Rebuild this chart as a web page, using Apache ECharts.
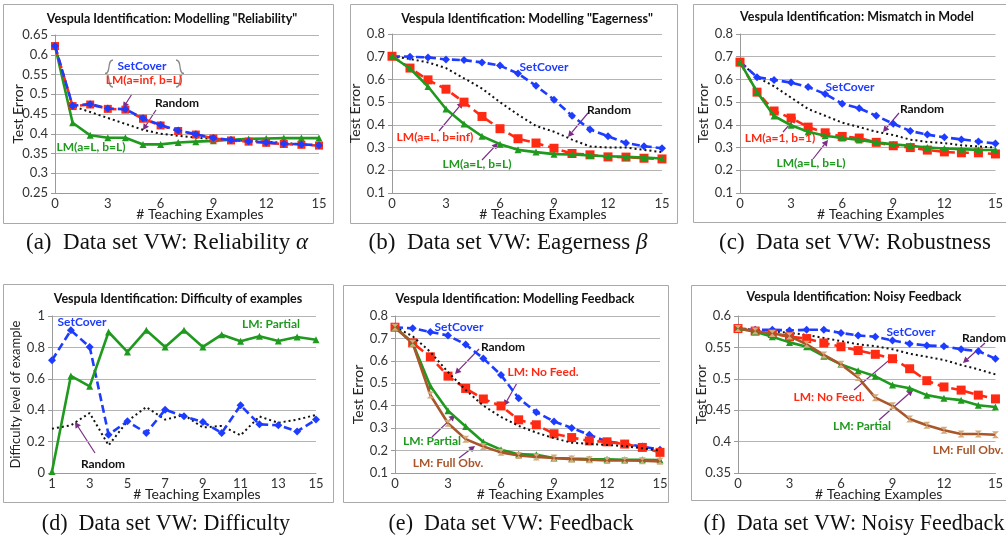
<!DOCTYPE html>
<html><head><meta charset="utf-8">
<script src="https://cdn.jsdelivr.net/npm/echarts@6/dist/echarts.min.js"></script>
<style>html,body{margin:0;padding:0;background:#fff}#c{width:1006px;height:538px}</style>
</head><body><div id="c"></div>
<script>
// ---------- data ----------
const examples = ['0','1','2','3','4','5','6','7','8','9','10','11','12','13','14','15'];
const examplesD = ['1','2','3','4','5','6','7','8','9','10','11','12','13','14','15'];

// (a) Reliability
const aSetCover = [0.622,0.471,0.475,0.464,0.462,0.439,0.422,0.408,0.399,0.389,0.384,0.381,0.378,0.375,0.373,0.371];
const aLMinfL   = [0.622,0.470,0.474,0.463,0.461,0.438,0.421,0.407,0.398,0.388,0.383,0.380,0.377,0.374,0.372,0.370];
const aLMLL     = [0.622,0.428,0.396,0.390,0.390,0.373,0.373,0.378,0.380,0.382,0.385,0.387,0.388,0.389,0.389,0.389];
const aRandom   = [0.622,0.470,0.455,0.440,0.425,0.410,0.400,0.395,0.390,0.387,0.384,0.382,0.380,0.377,0.373,0.370];

// (b) Eagerness
const bSetCover = [0.702,0.700,0.697,0.688,0.685,0.675,0.661,0.626,0.572,0.511,0.440,0.380,0.350,0.320,0.306,0.297];
const bLMLinf   = [0.702,0.650,0.598,0.557,0.500,0.437,0.383,0.339,0.320,0.297,0.274,0.268,0.259,0.258,0.253,0.250];
const bLMLL     = [0.702,0.648,0.569,0.470,0.404,0.350,0.315,0.290,0.280,0.271,0.270,0.265,0.262,0.259,0.256,0.252];
const bRandom   = [0.702,0.690,0.675,0.650,0.605,0.560,0.500,0.445,0.395,0.370,0.335,0.305,0.300,0.300,0.290,0.280];

// (c) Robustness
const cSetCover = [0.678,0.610,0.598,0.586,0.567,0.536,0.493,0.473,0.440,0.405,0.373,0.357,0.345,0.336,0.327,0.318];
const cLM11     = [0.676,0.544,0.461,0.430,0.390,0.365,0.349,0.342,0.323,0.308,0.300,0.289,0.281,0.277,0.277,0.272];
const cLMLL     = [0.676,0.545,0.439,0.398,0.370,0.352,0.342,0.333,0.323,0.314,0.308,0.300,0.296,0.293,0.290,0.289];
const cRandom   = [0.676,0.610,0.570,0.520,0.470,0.440,0.410,0.390,0.370,0.355,0.335,0.325,0.320,0.310,0.305,0.300];

// (d) Difficulty
const dSetCover = [0.718,0.909,0.803,0.244,0.329,0.255,0.403,0.361,0.325,0.255,0.431,0.310,0.304,0.265,0.340];
const dPartial  = [0.010,0.618,0.552,0.898,0.771,0.909,0.803,0.909,0.803,0.881,0.839,0.871,0.841,0.866,0.849];
const dRandom   = [0.282,0.304,0.382,0.176,0.330,0.420,0.340,0.370,0.290,0.300,0.240,0.360,0.320,0.340,0.370];

// (e) Feedback
const eSetCover = [0.750,0.745,0.729,0.713,0.673,0.611,0.537,0.433,0.371,0.330,0.301,0.270,0.241,0.230,0.218,0.204];
const eNoFeed   = [0.750,0.680,0.618,0.532,0.477,0.430,0.399,0.337,0.315,0.275,0.258,0.243,0.239,0.229,0.214,0.192];
const ePartial  = [0.750,0.680,0.488,0.378,0.307,0.238,0.204,0.184,0.181,0.167,0.164,0.162,0.161,0.159,0.159,0.158];
const eFullObv  = [0.750,0.678,0.448,0.322,0.251,0.218,0.192,0.178,0.171,0.167,0.162,0.159,0.156,0.156,0.155,0.152];
const eRandom   = [0.750,0.710,0.640,0.550,0.470,0.400,0.350,0.310,0.280,0.255,0.235,0.230,0.225,0.220,0.210,0.200];

// (f) Noisy feedback
const fSetCover = [0.580,0.578,0.578,0.577,0.578,0.578,0.573,0.569,0.567,0.561,0.556,0.553,0.552,0.547,0.544,0.532];
const fNoFeed   = [0.580,0.576,0.572,0.567,0.564,0.557,0.551,0.545,0.539,0.532,0.516,0.497,0.487,0.482,0.474,0.468];
const fPartial  = [0.580,0.575,0.567,0.558,0.551,0.536,0.523,0.513,0.504,0.490,0.485,0.474,0.469,0.466,0.458,0.455];
const fFullObv  = [0.580,0.576,0.572,0.568,0.555,0.538,0.523,0.502,0.470,0.457,0.436,0.426,0.418,0.412,0.412,0.411];
const fRandom   = [0.580,0.578,0.576,0.573,0.570,0.565,0.560,0.555,0.552,0.547,0.540,0.535,0.530,0.522,0.515,0.507];

const titles = [
  'Vespula Identification: Modelling "Reliability"',
  'Vespula Identification: Modelling "Eagerness"',
  'Vespula Identification: Mismatch in Model',
  'Vespula Identification: Difficulty of examples',
  'Vespula Identification: Modelling Feedback',
  'Vespula Identification: Noisy Feedback'
];

// ---------- styles ----------
const COL = {blue:'#1e3cff', red:'#ff2a14', green:'#1f9a1f', brown:'#a8562a', tan:'#d4aa7d', black:'#111', purple:'#7b2c86', grid:'#b4b4b4', border:'#a9a9a9'};
const FONT = 'Lato, "Open Sans", sans-serif';
const SERIF = '"Liberation Serif", "DejaVu Serif", serif';

const grids = [
  {left:55,  top:35,  width:264, height:158},
  {left:392, top:34,  width:270, height:159},
  {left:740, top:34,  width:266, height:159},
  {left:52,  top:316, width:264, height:157},
  {left:395, top:316, width:265, height:157},
  {left:738, top:316, width:266, height:157}
];
const yRanges = [[0.25,0.65,0.05],[0.1,0.8,0.1],[0.1,0.8,0.1],[0,1,0.2],[0.1,0.8,0.1],[0.35,0.6,0.05]];
const yNames = ['Test Error','Test Error','Test Error','Difficulty level of example','Test Error','Test Error'];
const xShift = [13,16,13,13,13,12];

const xAxes = grids.map((g,i)=>({
  type:'category', gridIndex:i, boundaryGap:false,
  data: i===3 ? examplesD : examples,
  axisLine:{lineStyle:{color:'#9a9a9a'}}, axisTick:{show:false},
  axisLabel:{interval: i===3 ? 1 : 2, color:'#333', fontSize:13, fontFamily:FONT, margin:4},
  name:'# Teaching Examples', nameLocation:'middle', nameGap:14, nameMoveOverlap:false,
  nameTextStyle:{fontSize:14, color:'#222', fontFamily:FONT, padding:[0,0,0,xShift[i]*2]}
}));
const yAxes = grids.map((g,i)=>({
  type:'value', gridIndex:i, min:yRanges[i][0], max:yRanges[i][1], interval:yRanges[i][2],
  axisLine:{show:true, lineStyle:{color:'#9a9a9a'}}, axisTick:{show:true, length:4, lineStyle:{color:'#9a9a9a'}},
  splitLine:{lineStyle:{color:COL.grid, width:1}},
  axisLabel:{color:'#333', fontSize:13, fontFamily:FONT, margin:7},
  name:yNames[i], nameLocation:'middle', nameGap:30, nameMoveOverlap:false,
  nameTextStyle:{fontSize: i===3 ? 13 : 14, color:'#222', fontFamily:FONT}
}));

const hourglass = 'path://M0,0 L10,0 L0,10 L10,10 Z';
function mk(gi, data, kind, z){
  const s = {type:'line', xAxisIndex:gi, yAxisIndex:gi, data:data, showAllSymbol:true, animation:false, z:z||2, symbolKeepAspect:false};
  if(kind==='blue'){ Object.assign(s,{symbol:'diamond', symbolSize:8, lineStyle:{color:COL.blue,width:2.6,type:[8,4]}, itemStyle:{color:COL.blue}}); }
  if(kind==='red'){ Object.assign(s,{symbol:'rect', symbolSize:gi===0?8:9, lineStyle:{color:COL.red,width:2.6,type:[9,5]}, itemStyle:{color:COL.red}}); }
  if(kind==='green'){ Object.assign(s,{symbol:'triangle', symbolSize:7, lineStyle:{color:COL.green,width:2.6}, itemStyle:{color:COL.green}}); }
  if(kind==='brown'){ Object.assign(s,{symbol:hourglass, symbolSize:7, lineStyle:{color:COL.brown,width:2.6}, itemStyle:{color:COL.tan}}); }
  if(kind==='random'){ Object.assign(s,{symbol:'none', lineStyle:{color:COL.black,width:2,type:[2,3]}}); }
  return s;
}
const series = [
  mk(0,aRandom,'random',2), mk(0,aLMLL,'green',3), mk(0,aLMinfL,'red',4), mk(0,aSetCover,'blue',5),
  mk(1,bRandom,'random',2), mk(1,bSetCover,'blue',3), mk(1,bLMLinf,'red',4), mk(1,bLMLL,'green',5),
  mk(2,cRandom,'random',2), mk(2,cSetCover,'blue',3), mk(2,cLM11,'red',4), mk(2,cLMLL,'green',5),
  mk(3,dRandom,'random',2), mk(3,dSetCover,'blue',3), mk(3,dPartial,'green',4),
  mk(4,eRandom,'random',4), mk(4,eSetCover,'blue',3), mk(4,eNoFeed,'red',3), mk(4,ePartial,'green',5), mk(4,eFullObv,'brown',6),
  mk(5,fRandom,'random',2), mk(5,fSetCover,'blue',3), mk(5,fNoFeed,'red',4), mk(5,fPartial,'green',5), mk(5,fFullObv,'brown',6)
];

// ---------- annotations (pixel layout) ----------
const LBL = 12;
function txt(x,y,t,color,size,extra){
  return Object.assign({type:'text', x:x, y:y, z:50, style:{text:t, fill:color, font:'bold '+(size||LBL)+'px '+FONT, align:'center', verticalAlign:'middle'}}, extra||{});
}
function arrow(x1,y1,x2,y2){
  const a = Math.atan2(y2-y1,x2-x1), L=6, W=3.2;
  const bx = x2 - L*Math.cos(a), by = y2 - L*Math.sin(a);
  const px = -Math.sin(a)*W, py = Math.cos(a)*W;
  return {type:'group', z:50, children:[
    {type:'line', shape:{x1:x1,y1:y1,x2:bx,y2:by}, style:{stroke:COL.purple, lineWidth:1.2}},
    {type:'polygon', shape:{points:[[x2,y2],[bx+px,by+py],[bx-px,by-py]]}, style:{fill:COL.purple}}
  ]};
}
function box(x,y,w,h){ return {type:'rect', z:0, shape:{x:x+0.5,y:y+0.5,width:w,height:h}, style:{fill:'none', stroke:COL.border, lineWidth:1}}; }
function cap(x,y,t,rich,scaleX){
  return {type:'text', x:x, y:y, z:50, scaleX:scaleX||1, style:{text:t, fill:'#111', font:'23px '+SERIF, align:'center', verticalAlign:'middle', rich:rich||{}}};
}
// curly brace decoration made of two bezier curves
function brace(x,y1,y2,dir){
  const m=(y1+y2)/2, d=4*dir, st={stroke:'#8a8a8a', lineWidth:1.3, fill:'none'};
  return {type:'group', z:50, children:[
    {type:'bezierCurve', shape:{x1:x+d,y1:y1,cpx1:x-d*0.6,cpy1:y1,cpx2:x+d*0.6,cpy2:m,x2:x-d,y2:m}, style:st},
    {type:'bezierCurve', shape:{x1:x-d,y1:m,cpx1:x+d*0.6,cpy1:m,cpx2:x-d*0.6,cpy2:y2,x2:x+d,y2:y2}, style:st}
  ]};
}
const richI = {i:{fontStyle:'italic', fontSize:23, fontFamily:SERIF, fill:'#111'}};
const TS = 12.5;

const graphic = [
  box(3,4,330,219), box(350,4,327,219), box(693,4,340,218),
  box(3,284,330,218), box(343,285,325,217), box(691,285,340,215),
  // titles
  txt(172,19,titles[0],'#111',TS), txt(527,19,titles[1],'#111',TS), txt(857,17,titles[2],'#111',TS),
  txt(178,299,titles[3],'#111',TS), txt(515,299,titles[4],'#111',TS), txt(854,297,titles[5],'#111',TS),
  // (a)
  brace(109,60,87,1), brace(180,60,87,-1),
  txt(142,66,'SetCover',COL.blue), txt(144,80,'LM(a=inf, b=L)',COL.red),
  txt(177,103,'Random','#111'), txt(91,147,'LM(a=L, b=L)',COL.green),
  arrow(132,94,123,108), arrow(156,110,143,130),
  // (b)
  txt(544,67,'SetCover',COL.blue), txt(609,110,'Random','#111'),
  txt(435,137,'LM(a=L, b=inf)',COL.red), txt(477,164,'LM(a=L, b=L)',COL.green),
  arrow(588,113,568,137), arrow(439,131,463,102), arrow(482,160,498,143),
  // (c)
  txt(850,87,'SetCover',COL.blue), txt(922,109,'Random','#111'),
  txt(780,138,'LM(a=1, b=1)',COL.red), txt(811,163,'LM(a=L, b=L)',COL.green),
  arrow(899,113,883,132), arrow(783,132,796,117), arrow(813,159,828,140),
  // (d)
  txt(82,322,'SetCover',COL.blue), txt(271,324,'LM: Partial',COL.green), txt(103,464,'Random','#111'),
  arrow(95,453,75,422),
  // (e)
  txt(459,327,'SetCover',COL.blue), txt(503,347,'Random','#111'), txt(543,372,'LM: No Feed.',COL.red),
  txt(432,441,'LM: Partial',COL.green), txt(448,463,'LM: Full Obv.',COL.brown),
  arrow(479,349,455,374), arrow(517,383,504,406), arrow(432,437,455,415), arrow(459,458,475,446),
  // (f)
  txt(911,332,'SetCover',COL.blue), txt(984,338,'Random','#111'), txt(829,397,'LM: No Feed.',COL.red),
  txt(862,426,'LM: Partial',COL.green), txt(968,450,'LM: Full Obv.',COL.brown),
  arrow(985,343,963,363), arrow(854,390,894,356), arrow(879,420,913,390),
  // captions
  cap(167,243,'(a)  Data set VW: Reliability {i|α}',richI), cap(508,243,'(b)  Data set VW: Eagerness {i|β}',richI),
  cap(855,243,'(c)  Data set VW: Robustness'),
  cap(166,524,'(d)  Data set VW: Difficulty',null,0.96), cap(511,524,'(e)  Data set VW: Feedback',null,0.96),
  cap(854,524,'(f)  Data set VW: Noisy Feedback',null,0.96)
];

const chart = echarts.init(document.getElementById('c'), null, {renderer:'canvas'});
chart.setOption({
  backgroundColor:'#fff', animation:false,
  grid: grids, xAxis: xAxes, yAxis: yAxes, series: series, graphic: graphic
});
</script></body></html>
